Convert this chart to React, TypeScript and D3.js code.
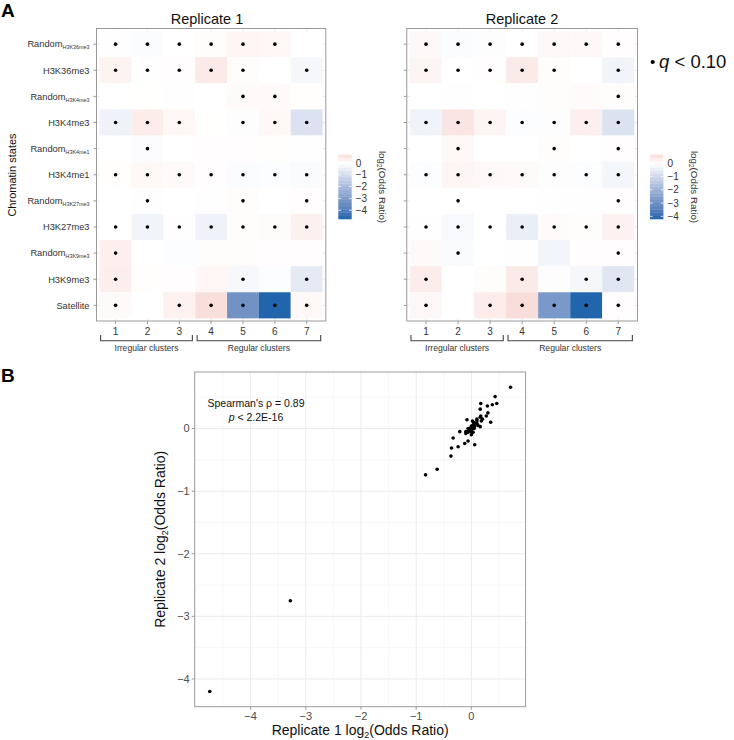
import React from "react";
import * as d3 from "d3";

// ---------- data ----------
const clusters = ["1", "2", "3", "4", "5", "6", "7"];
const stateMain = ["Random", "H3K36me3", "Random", "H3K4me3", "Random", "H3K4me1", "Random", "H3K27me3", "Random", "H3K9me3", "Satellite"];
const stateSub = ["H3K36me3", "", "H3K4me3", "", "H3K4me1", "", "H3K27me3", "", "H3K9me3", "", ""];

// log2(Odds Ratio), replicate 1 (rows = chromatin states, cols = clusters 1..7)
const rep1 = [
  [0.02, -0.10, 0.00, 0.05, 0.20, 0.18, 0.00],
  [0.27, 0.02, 0.04, 0.46, 0.06, 0.00, -0.24],
  [0.00, 0.01, 0.02, 0.00, 0.12, 0.10, 0.03],
  [-0.36, 0.43, 0.17, 0.01, -0.05, 0.16, -0.83],
  [0.00, -0.08, 0.00, 0.04, 0.04, 0.03, 0.02],
  [0.03, 0.16, 0.10, 0.04, -0.10, -0.06, -0.12],
  [0.00, -0.03, 0.00, 0.02, 0.05, 0.00, 0.04],
  [0.00, -0.33, -0.02, -0.37, 0.05, 0.08, 0.30],
  [0.35, 0.00, -0.06, 0.05, 0.06, 0.04, 0.04],
  [0.38, 0.03, 0.04, 0.17, -0.21, -0.06, -0.62],
  [0.10, 0.00, 0.29, 0.71, -3.28, -4.74, 0.16],
];
// log2(Odds Ratio), replicate 2
const rep2 = [
  [0.12, -0.08, -0.05, 0.00, 0.15, 0.12, 0.04],
  [0.20, 0.00, 0.03, 0.40, 0.06, 0.00, -0.29],
  [0.00, 0.01, 0.00, 0.02, 0.05, 0.08, 0.05],
  [-0.31, 0.51, 0.20, -0.06, -0.04, 0.31, -0.74],
  [0.00, 0.14, 0.00, 0.00, 0.05, 0.00, 0.04],
  [-0.06, 0.18, 0.12, 0.10, -0.05, -0.06, -0.24],
  [0.00, 0.00, 0.00, 0.00, 0.02, 0.01, 0.03],
  [0.02, -0.15, 0.00, -0.44, 0.08, 0.06, 0.25],
  [0.10, -0.10, 0.00, 0.02, -0.26, 0.03, 0.04],
  [0.38, 0.00, 0.05, 0.40, -0.05, -0.20, -0.65],
  [0.15, 0.00, 0.36, 0.66, -2.75, -4.20, 0.03],
];
// q < 0.10 markers
const rep1Sig = [
  [1, 1, 1, 1, 1, 1, 0],
  [1, 1, 1, 1, 1, 0, 1],
  [0, 0, 0, 0, 1, 1, 0],
  [1, 1, 1, 0, 1, 1, 1],
  [0, 1, 0, 0, 0, 0, 0],
  [1, 1, 1, 1, 1, 1, 1],
  [0, 1, 0, 0, 1, 0, 1],
  [1, 1, 1, 1, 1, 1, 1],
  [1, 0, 0, 0, 0, 0, 0],
  [1, 0, 0, 0, 1, 0, 1],
  [1, 0, 1, 1, 1, 1, 1],
];
const rep2Sig = [
  [1, 1, 1, 1, 1, 1, 1],
  [1, 1, 1, 1, 1, 0, 1],
  [0, 0, 0, 0, 0, 0, 1],
  [1, 1, 1, 1, 1, 1, 1],
  [0, 1, 0, 0, 1, 0, 1],
  [1, 1, 1, 1, 1, 1, 1],
  [0, 1, 0, 0, 0, 0, 1],
  [1, 1, 1, 1, 1, 1, 1],
  [0, 1, 0, 0, 0, 0, 1],
  [1, 0, 0, 1, 0, 1, 1],
  [1, 0, 1, 1, 1, 1, 1],
];
const legendBreaks = [0, -1, -2, -3, -4];
const scatterTicks = [-4, -3, -2, -1, 0];
const groupLabels = ["Irregular clusters", "Regular clusters"];

// ---------- style ----------
const FONT = "'Liberation Sans', Arial, Helvetica, sans-serif";
const LOW = "#2166AC";
const MID = "#FFFFFF";
const HIGH = "#B2182B";
const BORDER = "#9A9A9A";
const GRID = "#EBEBEB";

const rowKeys = stateMain.map((m, i) => m + stateSub[i]);

function Heatmap({ x0, x1, values, sig, title, titleX, showLabels }: any) {
  const xS = d3.scalePoint<string>().domain(clusters).range([x0, x1]).padding(0.6);
  const yS = d3.scalePoint<string>().domain(rowKeys).range([28.5, 321]).padding(0.6);
  const sw = xS.step();
  const sh = yS.step();
  const flat = values.flat();
  const lo = d3.min(flat) as number;
  const hi = d3.max(flat) as number;
  const M = Math.max(Math.abs(lo), Math.abs(hi));
  const color = d3.scaleLinear<string>().domain([-M, 0, M]).range([LOW, MID, HIGH]).interpolate(d3.interpolateLab);
  const top = 28.5, bottom = 321;

  // legend
  const barX = x1 + 12.5;
  const barW = 13.4;
  const lyS = d3.scaleLinear().domain([lo, hi]).range([219, 154.5]);
  const nbin = 20;
  const step = (hi - lo) / nbin;
  const bins = d3.range(nbin).map((i) => lo + i * step);

  const bx = (c: string, d: number) => (xS(c) as number) + d * sw;

  return (
    <g>
      <text x={titleX} y={24} textAnchor="middle" fontSize={14.5} fontFamily={FONT} fill="#111">{title}</text>
      {/* grid */}
      {clusters.map((c) => (
        <line key={"gx" + c} x1={xS(c)} x2={xS(c)} y1={top} y2={bottom} stroke={GRID} strokeWidth={1} />
      ))}
      {rowKeys.map((r) => (
        <line key={"gy" + r} x1={x0} x2={x1} y1={yS(r)} y2={yS(r)} stroke={GRID} strokeWidth={1} />
      ))}
      {/* tiles */}
      {values.map((row: number[], i: number) =>
        row.map((v: number, j: number) => (
          <rect key={`t${i}-${j}`} x={(xS(clusters[j]) as number) - sw / 2} y={(yS(rowKeys[i]) as number) - sh / 2}
            width={sw} height={sh} fill={color(v)} />
        ))
      )}
      {/* dots */}
      {sig.map((row: number[], i: number) =>
        row.map((s: number, j: number) => s ? (
          <circle key={`d${i}-${j}`} cx={xS(clusters[j])} cy={yS(rowKeys[i])} r={1.8} fill="#000" />
        ) : null)
      )}
      <rect x={x0} y={top} width={x1 - x0} height={bottom - top} fill="none" stroke={BORDER} strokeWidth={1} />
      {/* y axis */}
      {rowKeys.map((r, i) => (
        <g key={"ya" + r}>
          <line x1={x0 - 3} x2={x0} y1={yS(r)} y2={yS(r)} stroke={BORDER} strokeWidth={1} />
          {showLabels && (
            <text x={x0 - 7} y={(yS(r) as number) + 3.3} textAnchor="end" fontSize={9.3} fontFamily={FONT} fill="#333">
              {stateMain[i]}
              {stateSub[i] ? <tspan fontSize={5.4} dy={2}>{stateSub[i]}</tspan> : null}
            </text>
          )}
        </g>
      ))}
      {/* x axis */}
      {clusters.map((c) => (
        <g key={"xa" + c}>
          <line x1={xS(c)} x2={xS(c)} y1={bottom} y2={bottom + 3} stroke={BORDER} strokeWidth={1} />
          <text x={xS(c)} y={335} textAnchor="middle" fontSize={10} fontFamily={FONT} fill="#333">{c}</text>
        </g>
      ))}
      {/* brackets */}
      {[
        { a: bx("1", -0.47), b: bx("3", 0.41), label: groupLabels[0] },
        { a: bx("4", -0.44), b: bx("7", 0.44), label: groupLabels[1] },
      ].map((g) => (
        <g key={g.label}>
          <path d={`M${g.a},335 V340.7 H${g.b} V335`} fill="none" stroke="#444" strokeWidth={1.1} />
          <text x={(g.a + g.b) / 2} y={351} textAnchor="middle" fontSize={8.6} fontFamily={FONT} fill="#333">{g.label}</text>
        </g>
      ))}
      {/* legend */}
      {bins.map((b, i) => (
        <rect key={"lb" + i} x={barX} y={lyS(b + step)} width={barW} height={lyS(b) - lyS(b + step) + 0.3}
          fill={color(b + step / 2)} />
      ))}
      {legendBreaks.filter((t) => t >= lo && t <= hi).map((t) => (
        <g key={"lt" + t}>
          <line x1={barX} x2={barX + barW / 5} y1={lyS(t)} y2={lyS(t)} stroke="#fff" strokeWidth={0.8} />
          <line x1={barX + barW - barW / 5} x2={barX + barW} y1={lyS(t)} y2={lyS(t)} stroke="#fff" strokeWidth={0.8} />
          <text x={barX + barW + 4} y={lyS(t) + 3.6} fontSize={10} fontFamily={FONT} fill="#333">
            {t === 0 ? "0" : "\u2212" + Math.abs(t)}
          </text>
        </g>
      ))}
      <text transform={`translate(${barX + 41},187) rotate(90)`} textAnchor="middle" fontSize={9.8} fontFamily={FONT} fill="#333">
        log<tspan fontSize={6.5} dy={2.5}>2</tspan><tspan dy={-2.5}>(Odds Ratio)</tspan>
      </text>
    </g>
  );
}

function Scatter() {
  const pts: { x: number; y: number }[] = [];
  rep1.forEach((row, i) => row.forEach((v, j) => pts.push({ x: v, y: rep2[i][j] })));
  const [xmin, xmax] = d3.extent(pts, (d) => d.x) as [number, number];
  const [ymin, ymax] = d3.extent(pts, (d) => d.y) as [number, number];
  const ex = (xmax - xmin) * 0.05;
  const ey = (ymax - ymin) * 0.05;
  const L = 194.7, R = 525.6, T = 372, B = 706.7;
  const xS = d3.scaleLinear().domain([xmin - ex, xmax + ex]).range([L, R]);
  const yS = d3.scaleLinear().domain([ymin - ey, ymax + ey]).range([B, T]);
  const minor = [-4.5, -3.5, -2.5, -1.5, -0.5, 0.5];
  const fmt = (t: number) => (t === 0 ? "0" : "\u2212" + Math.abs(t));
  return (
    <g>
      <rect x={L} y={T} width={R - L} height={B - T} fill="#fff" />
      {minor.map((t) => (
        <g key={"m" + t}>
          {t >= xS.domain()[0] && t <= xS.domain()[1] && <line x1={xS(t)} x2={xS(t)} y1={T} y2={B} stroke="#F2F2F2" strokeWidth={0.6} />}
          {t >= yS.domain()[0] && t <= yS.domain()[1] && <line x1={L} x2={R} y1={yS(t)} y2={yS(t)} stroke="#F2F2F2" strokeWidth={0.6} />}
        </g>
      ))}
      {scatterTicks.map((t) => (
        <g key={"M" + t}>
          <line x1={xS(t)} x2={xS(t)} y1={T} y2={B} stroke={GRID} strokeWidth={1} />
          <line x1={L} x2={R} y1={yS(t)} y2={yS(t)} stroke={GRID} strokeWidth={1} />
        </g>
      ))}
      {pts.map((p, i) => (
        <circle key={"p" + i} cx={xS(p.x)} cy={yS(p.y)} r={1.8} fill="#000" />
      ))}
      <rect x={L} y={T} width={R - L} height={B - T} fill="none" stroke={BORDER} strokeWidth={1} />
      {scatterTicks.map((t) => (
        <g key={"tk" + t}>
          <line x1={xS(t)} x2={xS(t)} y1={B} y2={B + 3} stroke={BORDER} />
          <text x={xS(t)} y={720} textAnchor="middle" fontSize={11} fontFamily={FONT} fill="#4D4D4D">{fmt(t)}</text>
          <line x1={L - 3} x2={L} y1={yS(t)} y2={yS(t)} stroke={BORDER} />
          <text x={L - 5} y={yS(t) + 3.8} textAnchor="end" fontSize={11} fontFamily={FONT} fill="#4D4D4D">{fmt(t)}</text>
        </g>
      ))}
      <text x={(L + R) / 2} y={735} textAnchor="middle" fontSize={14} fontFamily={FONT} fill="#111">
        Replicate 1 log<tspan fontSize={9} dy={3}>2</tspan><tspan dy={-3}>(Odds Ratio)</tspan>
      </text>
      <text transform={`translate(165,${(T + B) / 2}) rotate(-90)`} textAnchor="middle" fontSize={14} fontFamily={FONT} fill="#111">
        Replicate 2 log<tspan fontSize={9} dy={3}>2</tspan><tspan dy={-3}>(Odds Ratio)</tspan>
      </text>
      <text x={256} y={407} textAnchor="middle" fontSize={10.5} fontFamily={FONT} fill="#111">Spearman's ρ = 0.89</text>
      <text x={256} y={421} textAnchor="middle" fontSize={10.5} fontFamily={FONT} fill="#111">
        <tspan fontStyle="italic">p</tspan> &lt; 2.2E-16
      </text>
    </g>
  );
}

export default function App() {
  return (
    <svg width={734} height={740} viewBox="0 0 734 740"
      style={{ position: "absolute", left: 0, top: 0, display: "block", background: "#fff" }}>
      <rect width={734} height={740} fill="#fff" />
      <text x={1} y={17} fontSize={19} fontWeight="bold" fontFamily={FONT} fill="#000">A</text>
      <text x={1} y={382} fontSize={19} fontWeight="bold" fontFamily={FONT} fill="#000">B</text>
      <text transform="translate(16,175) rotate(-90)" textAnchor="middle" fontSize={11} fontFamily={FONT} fill="#111">Chromatin states</text>
      <Heatmap x0={96.5} x1={325.8} values={rep1} sig={rep1Sig} title="Replicate 1" titleX={207} showLabels={true} />
      <Heatmap x0={406.8} x1={637.5} values={rep2} sig={rep2Sig} title="Replicate 2" titleX={522} showLabels={false} />
      <circle cx={652.7} cy={62} r={2.1} fill="#000" />
      <text x={659} y={68} fontSize={18.5} fontFamily={FONT} fill="#111">
        <tspan fontStyle="italic">q</tspan> &lt; 0.10
      </text>
      <Scatter />
    </svg>
  );
}
